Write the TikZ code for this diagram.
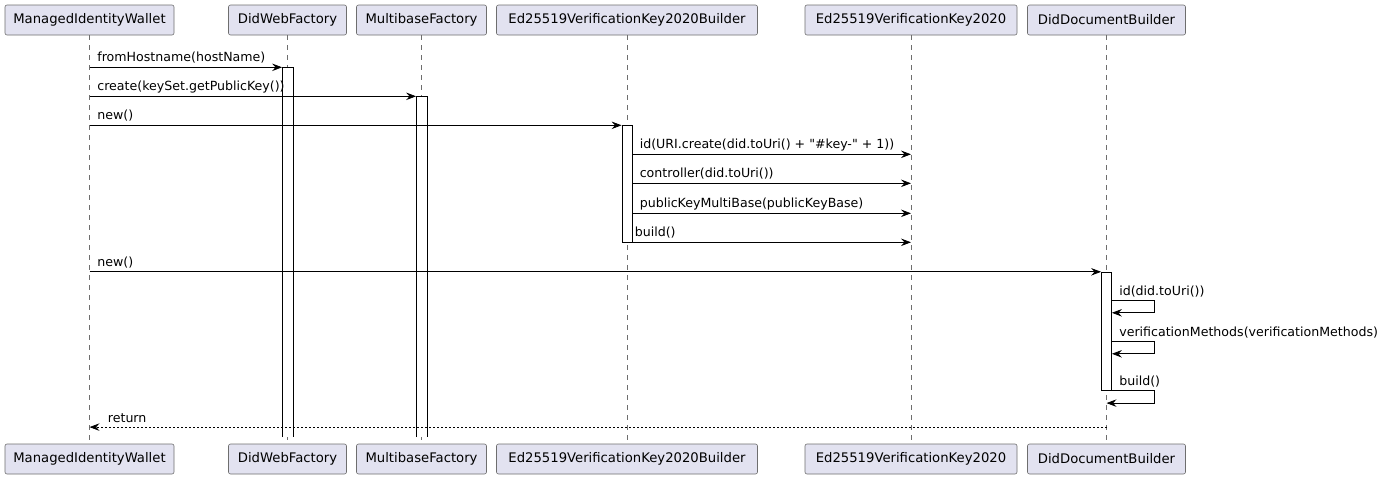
\documentclass[tikz,border=0pt]{standalone}
\usepackage{fontspec}
\setmainfont{DejaVu Sans}
\usetikzlibrary{arrows.meta,positioning}
\definecolor{partfill}{HTML}{E2E2F0}
\definecolor{partline}{HTML}{6E6E6E}
\begin{document}
\begin{tikzpicture}[x=1pt,y=-1pt,font=\fontsize{12.6pt}{15pt}\selectfont,
        part/.style={draw=partline,fill=partfill,rounded corners=2pt,line width=0.6pt,minimum height=30pt,inner sep=0pt,font=\fontsize{13.2pt}{15pt}\selectfont},
        life/.style={draw=partline,line width=0.6pt,dash pattern=on 5pt off 5pt},
        act/.style={draw,fill=white,line width=0.8pt,minimum width=10pt,inner sep=0pt,anchor=north},
        openact/.style={act,draw=none},
        msg/.style={line width=0.8pt,-{Stealth[length=10pt,width=7.5pt,inset=3.5pt]}},
        ret/.style={msg,dash pattern=on 2pt off 2pt},
        lbl/.style={anchor=base west,inner sep=0pt}]
    \useasboundingbox (0,0) rectangle (1382,479);
    \foreach \n/\x/\w/\t in {miw/89.5/169/ManagedIdentityWallet,dwf/287.5/118/DidWebFactory,
            mbf/421.5/130/MultibaseFactory,evb/627/261/Ed25519VerificationKey2020Builder,
            evk/911/212/Ed25519VerificationKey2020,ddb/1106.5/158/DidDocumentBuilder}{
        \node[part,minimum width=\w pt] (\n) at (\x,20) {\t};
        \node[part,minimum width=\w pt] (\n B) at (\x,459) {\t};
        \draw[life] (\n) -- (\n B);
    }
    % activations
    \node[openact,minimum height=369pt,below=32pt of dwf.south] (dwfact) {};
    \node[openact,minimum height=340pt,below=61pt of mbf.south] (mbfact) {};
    \foreach \a in {dwfact,mbfact}
        \draw[line width=0.8pt] (\a.south west) -- (\a.north west) -- (\a.north east) -- (\a.south east);
    \node[act,minimum height=117pt,below=90pt of evb.south] (evbact) {};
    \node[act,minimum height=118pt,below=236.5pt of ddb.south] (ddbact) {};
    % calls from the wallet
    \draw[msg] (miw |- dwfact.north) -- (dwfact.north west) node[lbl,pos=0,xshift=7.5pt,yshift=5.5pt] {fromHostname(hostName)};
    \draw[msg] (miw |- mbfact.north) -- (mbfact.north west) node[lbl,pos=0,xshift=7.5pt,yshift=5.5pt] {create(keySet.getPublicKey())};
    \draw[msg] (miw |- evbact.north) -- (evbact.north west) node[lbl,pos=0,xshift=7.5pt,yshift=5.5pt] {new()};
    % key builder
    \foreach \i/\d in {1/29,2/58,3/88,4/117}
        \coordinate[below=\d pt of evbact.north east] (k\i);
    \draw[msg] (k1) -- (k1 -| evk) node[lbl,pos=0,xshift=7pt,yshift=5.5pt] {id(URI.create(did.toUri() + \textquotedbl\#key-\textquotedbl{} + 1))};
    \draw[msg] (k2) -- (k2 -| evk) node[lbl,pos=0,xshift=7pt,yshift=5.5pt] {controller(did.toUri())};
    \draw[msg] (k3) -- (k3 -| evk) node[lbl,pos=0,xshift=7pt,yshift=5.5pt] {publicKeyMultiBase(publicKeyBase)};
    \draw[msg] (k4) -- (k4 -| evk) node[lbl,pos=0,xshift=2pt,yshift=5.5pt] {build()};
    % document builder
    \draw[msg] (miw |- ddbact.north) -- (ddbact.north west) node[lbl,pos=0,xshift=7.5pt,yshift=5.5pt] {new()};
    \coordinate[below=29pt of ddbact.north east] (s1);
    \coordinate[below=70pt of ddbact.north east] (s2);
    \draw[msg] (s1) node[lbl,xshift=7pt,yshift=5.5pt] {id(did.toUri())} -- ++(42,0) -- ++(0,12) -- ++(-42,0);
    \draw[msg] (s2) node[lbl,xshift=7pt,yshift=5.5pt] {verificationMethods(verificationMethods)} -- ++(42,0) -- ++(0,12) -- ++(-42,0);
    \draw[msg] (ddbact.south east) node[lbl,xshift=7pt,yshift=5.5pt] {build()} -- ++(42,0) -- ++(0,12.5) -- ++(-47.4,0);
    \coordinate[below=36.5pt of ddbact.south] (r);
    \draw[ret] (r) -- (r -| miw) node[lbl,pos=1,xshift=18pt,yshift=4.5pt] {return};
\end{tikzpicture}
\end{document}
